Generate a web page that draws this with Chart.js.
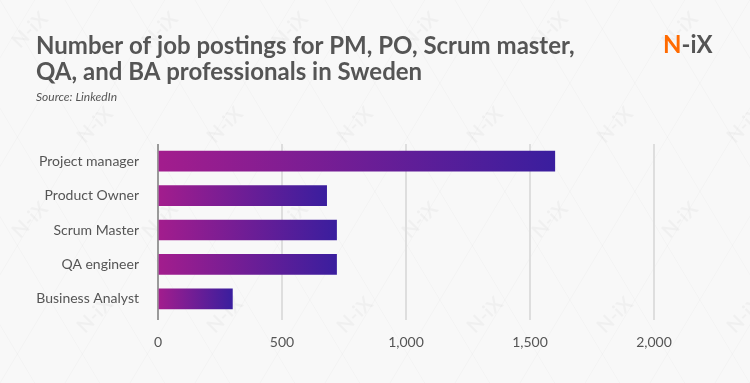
<!DOCTYPE html>
<html>
<head>
<meta charset="utf-8">
<script src="https://cdn.jsdelivr.net/npm/chart.js@4"></script>
<style>
  html, body { margin: 0; padding: 0; background: #f8f8f8; }
  #wrap { width: 750px; height: 383px; position: relative; }
</style>
</head>
<body>
<div id="wrap"><canvas id="chart"></canvas></div>
<script>
const categories = ['Project manager', 'Product Owner', 'Scrum Master', 'QA engineer', 'Business Analyst']
const postings = [1600, 680, 720, 720, 300]
const xTicks = [0, 500, 1000, 1500, 2000]

const titleLines = ['Number of job postings for PM, PO, Scrum master,', 'QA, and BA professionals in Sweden']
const source = 'Source: LinkedIn'

const textColor = '#555555'

// background, watermark, title and logo
const decor = {
  id: 'decor',
  beforeDraw(chart) {
    const ctx = chart.ctx
    ctx.save()
    ctx.fillStyle = '#f8f8f8'
    ctx.fillRect(0, 0, chart.width, chart.height)

    // faint triangle pattern
    ctx.strokeStyle = 'rgba(0,0,0,0.02)'
    ctx.lineWidth = 1
    for (let i = -8; i < 16; i++) {
      ctx.beginPath()
      ctx.moveTo(i * 65, 0)
      ctx.lineTo(i * 65 + 383 * 0.6, 383)
      ctx.moveTo(i * 65, 383)
      ctx.lineTo(i * 65 + 383 * 0.6, 0)
      ctx.stroke()
    }

    // watermark
    ctx.fillStyle = 'rgba(0,0,0,0.03)'
    ctx.font = 'bold 20px Lato'
    ctx.textAlign = 'center'
    ctx.textBaseline = 'middle'
    for (let r = 0; r < 5; r++) {
      for (let c = 0; c < 7; c++) {
        const x = 30 + c * 130 + (r % 2) * 65
        const y = 30 + r * 95
        ctx.save()
        ctx.translate(x, y)
        ctx.rotate(-Math.PI / 4)
        ctx.fillText('N-iX', 0, 0)
        ctx.restore()
      }
    }

    ctx.textAlign = 'left'
    ctx.textBaseline = 'alphabetic'
    ctx.fillStyle = textColor
    ctx.font = 'bold 24px Lato'
    ctx.fillText(titleLines[0], 36, 54)
    ctx.fillText(titleLines[1], 36, 80)
    ctx.font = 'italic 12px Lato'
    ctx.fillText(source, 36, 101)

    ctx.font = 'bold 24px Lato'
    ctx.fillStyle = '#ff6a00'
    ctx.fillText('N', 663, 53)
    const w = ctx.measureText('N').width
    ctx.fillStyle = textColor
    ctx.fillText('-iX', 663 + w, 53)
    ctx.restore()
  }
}

function barGradient(context) {
  const chart = context.chart
  const { chartArea, scales } = chart
  if (!chartArea || !scales.x) return '#6a1f98'
  const x0 = scales.x.getPixelForValue(0)
  const x1 = scales.x.getPixelForValue(postings[context.dataIndex])
  const g = chart.ctx.createLinearGradient(x0, 0, x1, 0)
  g.addColorStop(0, '#a31d8d')
  g.addColorStop(1, '#3a1e9e')
  return g
}

new Chart(document.getElementById('chart'), {
  type: 'bar',
  data: {
    labels: categories,
    datasets: [
      {
        data: postings,
        backgroundColor: barGradient,
        barThickness: 20,
        borderWidth: 0,
      },
    ],
  },
  plugins: [decor],
  options: {
    indexAxis: 'y',
    responsive: true,
    maintainAspectRatio: false,
    animation: false,
    layout: { padding: { top: 144, right: 96, left: 0, bottom: 0 } },
    plugins: {
      legend: { display: false },
      title: { display: false },
      tooltip: { enabled: false },
    },
    scales: {
      x: {
        min: 0,
        max: 2000,
        afterBuildTicks: (axis) => {
          axis.ticks = xTicks.map((v) => ({ value: v }))
        },
        afterFit: (axis) => {
          axis.height = 67
        },
        grid: {
          color: (c) => (c.tick && c.tick.value === 0 ? '#9a9a9a' : '#dedede'),
          lineWidth: 2,
          tickLength: 4,
        },
        border: { display: false },
        ticks: {
          padding: 14,
          color: textColor,
          font: { family: 'Lato', size: 14 },
          callback: (v) => v.toLocaleString('en-US'),
        },
      },
      y: {
        afterFit: (axis) => {
          axis.width = 158
        },
        grid: { display: false, drawTicks: false },
        border: { display: false },
        ticks: {
          padding: 19,
          color: textColor,
          font: { family: 'Lato', size: 14 },
        },
      },
    },
  },
})
</script>
</body>
</html>
